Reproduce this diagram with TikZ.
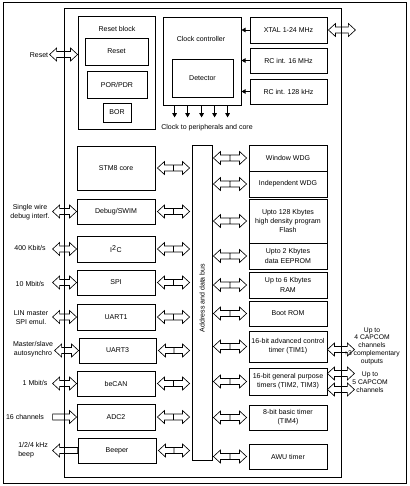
\documentclass[tikz,border=0pt]{standalone}
\usepackage{fontspec}
\setmainfont{Liberation Sans}
\usetikzlibrary{calc,arrows.meta}
\def\ahl{5pt}\def\ahh{4.6pt}\def\ash{2.1pt}
\newcommand\mybox[6]{\node[blk, minimum width={(#4-#2)*0.025cm}, minimum height={(#5-#3)*0.025cm}] (#1) at ({(#2+#4)/2},{(#3+#5)/2}) {#6};}
\newcommand\dblarrow[2]{\draw[hollow] let \p1=(#1), \p2=(#2) in
  (\x1,\y1) -- ({\x1+\ahl},{\y1+\ahh}) -- ({\x1+\ahl},{\y1+\ash}) -- ({\x2-\ahl},{\y1+\ash}) -- ({\x2-\ahl},{\y1+\ahh}) -- (\x2,\y1) -- ({\x2-\ahl},{\y1-\ahh}) -- ({\x2-\ahl},{\y1-\ash}) -- ({\x1+\ahl},{\y1-\ash}) -- ({\x1+\ahl},{\y1-\ahh}) -- cycle;}
\newcommand\dblarrowm[2]{\draw[hollow] let \p1=(#1), \p2=(#2) in
  (\x1,\y1) -- ({\x1+\ahl},{\y1+\ahh}) -- ({\x1+\ahl},{\y1+\ash}) -- ({\x2-\ahl},{\y1+\ash}) -- ({\x2-\ahl},{\y1+\ahh}) -- (\x2,\y1) -- ({\x2-\ahl},{\y1-\ahh}) -- ({\x2-\ahl},{\y1-\ash}) -- ({\x1+\ahl},{\y1-\ash}) -- ({\x1+\ahl},{\y1-\ahh}) -- cycle
  ({(\x1+\x2)/2},{\y1+\ash}) -- ({(\x1+\x2)/2},{\y1-\ash});}
\newcommand\sglarrow[3]{\draw[hollow] let \p1=(#1), \p2=(#2) in
  (\x1,{\y1+\ash}) -- ({\x2-(#3)*\ahl},{\y1+\ash}) -- ({\x2-(#3)*\ahl},{\y1+\ahh}) -- (\x2,\y1) -- ({\x2-(#3)*\ahl},{\y1-\ahh}) -- ({\x2-(#3)*\ahl},{\y1-\ash}) -- (\x1,{\y1-\ash}) -- cycle;}
\begin{document}
\begin{tikzpicture}[x=0.025cm,y=-0.025cm,
  every node/.style={font=\fontsize{5}{6.5}\selectfont, inner sep=0pt, align=center},
  blk/.style={draw, line width=0.6pt},
  hollow/.style={draw, line width=0.45pt, line join=miter},
  arr/.style={line width=0.6pt, -{Triangle[length=3pt,width=3.2pt]}},
  rlbl/.style={font=\fontsize{4.8}{5.5}\selectfont}]
\useasboundingbox (0,0) rectangle (409,486);
% frames
\mybox{outer}{3}{2}{406}{483}{}
\mybox{chip}{64}{8}{341}{477}{}
% reset block
\mybox{resetblk}{78}{16}{155}{129}{}
\node (resetlbl) at (117,29) {Reset block};
\mybox{reset}{85}{38}{148}{65}{Reset}
\mybox{por}{87}{71}{147}{98}{POR/PDR}
\mybox{bor}{103}{103}{131}{122}{BOR}
% clock
\mybox{clk}{163}{17}{241}{105}{}
\node (clklbl) at (201,39) {Clock controller};
\mybox{det}{172}{59}{233}{97}{Detector}
\mybox{xtal}{250}{17}{327}{43}{XTAL 1-24 MHz}
\mybox{rcb}{250}{48}{327}{73}{RC int. 16 MHz}
\mybox{rcc}{250}{79}{327}{104}{RC int. 128 kHz}
\node (clkout) at (207,128) {Clock to peripherals and core};
% left column
\mybox{core}{77}{146}{155}{190}{STM8 core}
\mybox{dbg}{77}{199}{155}{224}{Debug/SWIM}
\mybox{i2c}{77}{236}{155}{262}{I\textsuperscript{2}C}
\mybox{spi}{77}{270}{155}{295}{SPI}
\mybox{uarta}{77}{304}{155}{330}{UART1}
\mybox{uartb}{79}{338}{156}{363}{UART3}
\mybox{becan}{77}{371}{155}{396}{beCAN}
\mybox{adc}{77}{404}{155}{430}{ADC2}
\mybox{beep}{78}{438}{156}{463}{Beeper}
% bus
\mybox{bus}{192}{145}{212}{460}{}
\node[rotate=90] (buslbl) at (202,298) {Address and data bus};
% right column
\mybox{wwdg}{249}{145}{327}{171}{Window WDG}
\mybox{iwdg}{249}{171}{327}{197}{Independent WDG}
\mybox{flash}{249}{199}{327}{243}{Upto 128 Kbytes\\high density program\\Flash}
\mybox{eeprom}{249}{243}{327}{269}{Upto 2 Kbytes\\data EEPROM}
\mybox{ram}{249}{272}{327}{298}{Up to 6 Kbytes\\RAM}
\mybox{boot}{249}{301}{327}{326}{Boot ROM}
\mybox{tima}{249}{331}{327}{362}{16-bit advanced control\\timer (TIM1)}
\mybox{timb}{249}{368}{327}{395}{16-bit general purpose\\timers (TIM2, TIM3)}
\mybox{timc}{249}{405}{327}{430}{8-bit basic timer\\(TIM4)}
\mybox{awu}{249}{444}{327}{469}{AWU timer}
% external labels
\node (lreset) at (39,55) {Reset};
\node (ldbg) at (30,212) {Single wire\\debug interf.};
\node (li2c) at (30,248) {400 Kbit/s};
\node (lspi) at (30,284) {10 Mbit/s};
\node (luarta) at (31,318) {LIN master\\SPI emul.};
\node (luartb) at (33,349) {Master/slave\\autosynchro};
\node (lbecan) at (35,383) {1 Mbit/s};
\node (ladc) at (25,417) {16 channels};
\node[anchor=west, align=left] (lbeep) at (18,450) {1/2/4 kHz\\beep};
\node[rlbl] (ltima) at (372,346) {Up to\\4 CAPCOM\\channels\\+3 complementary\\outputs};
\node[rlbl] (ltimb) at (370,382) {Up to\\5 CAPCOM\\channels};
% clock arrows
\foreach \nm in {xtal,rcb,rcc} \draw[arr] (\nm.west) -- (clk.east |- \nm.west);
\foreach \dx in {12,25,39,52,65} \draw[arr] ($(clk.south west)+(\dx,0)$) -- ++(0,12);
% bus arrows
\foreach \nm in {core,dbg,i2c,spi,uarta,uartb,becan,adc,beep} {\dblarrowm{$(\nm.east)+(2,0)$}{$(bus.west |- \nm.east)+(-2,0)$}}
\foreach \nm in {wwdg,iwdg,flash,eeprom,ram,boot,tima,timb,timc,awu} {\dblarrowm{$(bus.east |- \nm.west)+(1,0)$}{$(\nm.west)+(-2,0)$}}
% external arrows
\dblarrow{$(resetblk.west |- reset.west)+(-28,3)$}{$(resetblk.west |- reset.west)+(0,3)$}
\foreach \nm in {dbg,i2c,spi,uarta,uartb,becan} {\dblarrow{$(\nm.west)+(-24,0)$}{\nm.west}}
\sglarrow{$(adc.west)+(-24,0)$}{adc.west}{1}
\sglarrow{beep.west}{$(beep.west)+(-25,0)$}{-1}
\dblarrow{$(xtal.east)+(1,0)$}{$(xtal.east)+(28,0)$}
\dblarrow{$(tima.east)+(0,3)$}{$(tima.east)+(27,3)$}
\dblarrow{$(timb.east)+(0,-8)$}{$(timb.east)+(27,-8)$}
\dblarrow{$(timb.east)+(0,8)$}{$(timb.east)+(27,8)$}
\end{tikzpicture}
\end{document}
